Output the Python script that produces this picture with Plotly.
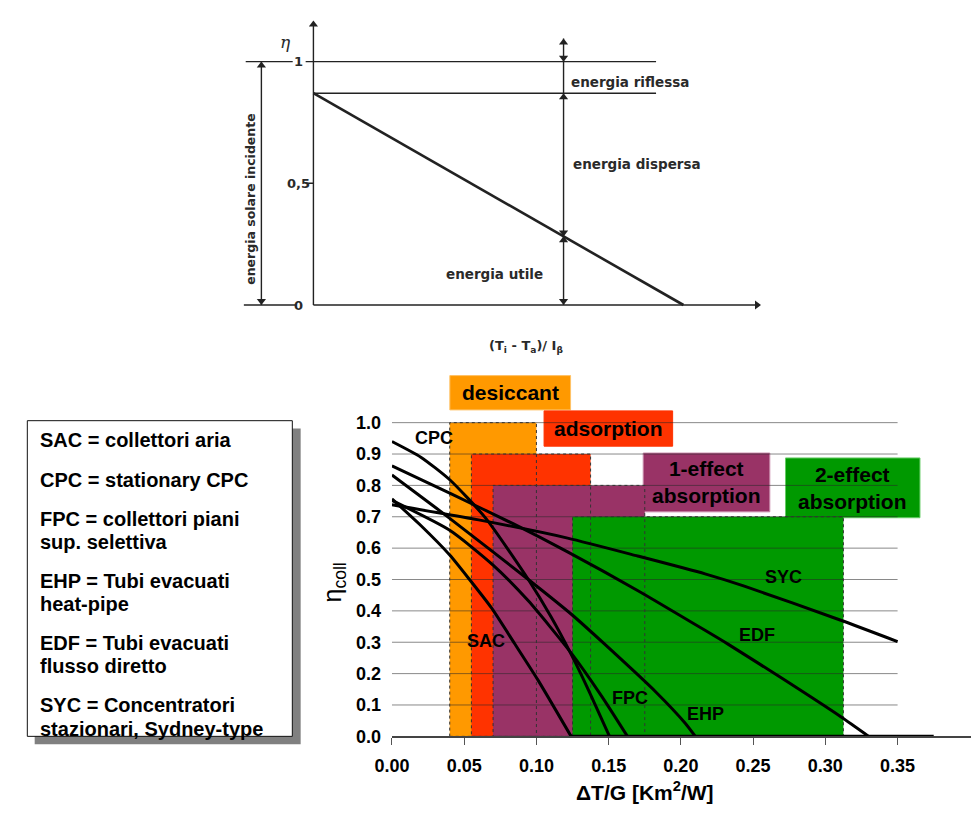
import plotly.graph_objects as go

W, H = 971, 814

# ------------------------------------------------------------------
# DATA  (lower chart: collector efficiency curves and application ranges)
# ------------------------------------------------------------------
x_tick_vals = [0.00, 0.05, 0.10, 0.15, 0.20, 0.25, 0.30, 0.35]
x_tick_text = ["0.00", "0.05", "0.10", "0.15", "0.20", "0.25", "0.30", "0.35"]
y_tick_vals = [0.0, 0.1, 0.2, 0.3, 0.4, 0.5, 0.6, 0.7, 0.8, 0.9, 1.0]
y_tick_text = ["0.0", "0.1", "0.2", "0.3", "0.4", "0.5", "0.6", "0.7", "0.8", "0.9", "1.0"]

app_names = ["desiccant", "adsorption", "1-effect<br>absorption", "2-effect<br>absorption"]
app_x_min = [0.040, 0.055, 0.070, 0.125]
app_x_max = [0.100, 0.1375, 0.175, 0.3125]
app_eta_max = [1.0, 0.9, 0.8, 0.7]
app_colors = ["#FF9900", "#FF3300", "#993366", "#009900"]
app_borders = ["#FFC266", "#FF3300", "#C98AAA", "#66CC66"]

cpc_x = [0.0, 0.02, 0.04, 0.065, 0.0944, 0.11, 0.124, 0.135, 0.1506]
cpc_eta = [0.94, 0.89, 0.818, 0.695, 0.50, 0.382, 0.262, 0.158, 0.0]
sac_x = [0.0, 0.02, 0.04, 0.0537, 0.0688, 0.085, 0.101, 0.124]
sac_eta = [0.757, 0.672, 0.578, 0.50, 0.41, 0.295, 0.18, 0.0]
fpc_x = [0.0, 0.04, 0.07, 0.0944, 0.124, 0.145, 0.163]
fpc_eta = [0.752, 0.657, 0.546, 0.432, 0.266, 0.129, 0.0]
ehp_x = [0.0, 0.04, 0.0944, 0.124, 0.1465, 0.183, 0.203, 0.21]
ehp_eta = [0.833, 0.695, 0.50, 0.39, 0.297, 0.14, 0.042, 0.0]
edf_x = [0.0, 0.04, 0.0842, 0.1216, 0.17, 0.2167, 0.2326, 0.27, 0.3107, 0.33]
edf_eta = [0.862, 0.775, 0.677, 0.588, 0.465, 0.338, 0.294, 0.185, 0.0625, 0.0]
syc_x = [0.0, 0.06, 0.1216, 0.17, 0.2167, 0.2439, 0.3107, 0.35]
syc_eta = [0.738, 0.690, 0.632, 0.575, 0.518, 0.479, 0.37, 0.302]
zero_x = [0.124, 0.375]          # efficiencies clipped at zero
zero_eta = [0.0, 0.0]

collector_names = ["CPC", "SAC", "FPC", "EHP", "EDF", "SYC"]
collector_x = [cpc_x, sac_x, fpc_x, ehp_x, edf_x, syc_x]
collector_eta = [cpc_eta, sac_eta, fpc_eta, ehp_eta, edf_eta, syc_eta]

legend_lines = [
    ["SAC = collettori aria"],
    ["CPC = stationary CPC"],
    ["FPC = collettori piani", "sup. selettiva"],
    ["EHP = Tubi evacuati", "heat-pipe"],
    ["EDF = Tubi evacuati", "flusso diretto"],
    ["SYC = Concentratori", "stazionari, Sydney-type"],
]

# DATA (upper schematic)
sch_eta0 = 0.87            # optical efficiency (intercept)
sch_x_zero = 1.0           # stagnation abscissa
sch_levels = [1.0, 0.87]   # incident (1) and transmitted-absorbed level
sch_x_marker = 0.676       # abscissa of the dimension line
sch_tick_vals = [1.0, 0.5, 0.0]
sch_tick_text = ["1", "0,5", "0"]

# ------------------------------------------------------------------
def px(x):
    return x / W

def py(y):
    return 1 - y / H

FONT = "Liberation Sans, Arial, sans-serif"
SFONT = "DejaVu Sans, sans-serif"
INK = "#222222"

fig = go.Figure()

# ---------------- lower chart traces ----------------
for name, xs, ys in zip(collector_names, collector_x, collector_eta):
    fig.add_trace(go.Scatter(x=xs, y=ys, mode="lines", name=name,
                             line=dict(color="black", width=3, shape="spline", smoothing=0.6),
                             showlegend=False, hoverinfo="skip", xaxis="x", yaxis="y"))
fig.add_trace(go.Scatter(x=zero_x, y=zero_eta, mode="lines",
                         line=dict(color="black", width=3), showlegend=False,
                         hoverinfo="skip", xaxis="x", yaxis="y"))

shapes = []
for x0, x1, top, col in zip(app_x_min, app_x_max, app_eta_max, app_colors):
    shapes.append(dict(type="rect", xref="x", yref="y", x0=x0, x1=x1, y0=0, y1=top,
                       fillcolor=col, line=dict(width=0), layer="below"))
label_boxes = [(440, 377, 563, 412), (536, 413, 667, 449), (637, 456, 766, 516), (782, 461, 919, 522)]
for (l, t, r, b), col, bcol in zip(label_boxes, app_colors, app_borders):
    shapes.append(dict(type="rect", xref="paper", yref="paper", x0=px(l), x1=px(r),
                       y0=py(b), y1=py(t), fillcolor=col, line=dict(color=bcol, width=1),
                       layer="below"))
for v in y_tick_vals[1:]:
    shapes.append(dict(type="line", xref="x", yref="y", x0=0, x1=x_tick_vals[-1], y0=v, y1=v,
                       line=dict(color="rgba(40,40,40,0.55)", width=1), layer="below"))
for x0, x1, top in zip(app_x_min, app_x_max, app_eta_max):
    shapes.append(dict(type="rect", xref="x", yref="y", x0=x0, x1=x1, y0=0, y1=top,
                       fillcolor="rgba(0,0,0,0)", line=dict(color="#333333", width=1, dash="dot"),
                       layer="below"))
shapes.append(dict(type="rect", xref="paper", yref="paper", x0=px(17), x1=px(288),
                   y0=py(753), y1=py(431), fillcolor="#808080", line=dict(width=0), layer="below"))
shapes.append(dict(type="rect", xref="paper", yref="paper", x0=px(9.5), x1=px(279.5),
                   y0=py(745), y1=py(423), fillcolor="white", line=dict(color="#111", width=1),
                   layer="below"))

annotations = []
for (l, t, r, b), name in zip(label_boxes, app_names):
    annotations.append(dict(xref="paper", yref="paper", x=px((l + r) / 2), y=py((t + b) / 2),
                            text=name, showarrow=False, xanchor="center", yanchor="middle",
                            font=dict(family=FONT, size=21, color="black", weight="bold")))
curve_label_pos = {"CPC": (0.0292, 0.952), "SAC": (0.0652, 0.305), "FPC": (0.165, 0.123),
                   "EHP": (0.217, 0.070), "EDF": (0.2527, 0.322), "SYC": (0.2707, 0.508)}
for name in collector_names:
    lx, ly = curve_label_pos[name]
    annotations.append(dict(xref="x", yref="y", x=lx, y=ly, text=name, showarrow=False,
                            xanchor="center", yanchor="middle",
                            font=dict(family=FONT, size=18, color="black", weight="bold")))
annotations.append(dict(xref="paper", yref="paper", x=px(639), y=py(801),
                        text="ΔT/G [Km<sup>2</sup>/W]", showarrow=False,
                        xanchor="center", yanchor="middle",
                        font=dict(family=FONT, size=21, color="black", weight="bold")))
annotations.append(dict(xref="paper", yref="paper", x=px(322), y=py(588),
                        text="η<sub>coll</sub>", showarrow=False, textangle=-90,
                        xanchor="center", yanchor="middle",
                        font=dict(family=FONT, size=25, color="black")))
line_y = 443
for entry in legend_lines:
    for i, txt in enumerate(entry):
        annotations.append(dict(xref="paper", yref="paper", x=px(20), y=py(line_y),
                                text=txt, showarrow=False, xanchor="left", yanchor="middle",
                                font=dict(family=FONT, size=20, color="black", weight="bold")))
        line_y += 23.5 if i < len(entry) - 1 else 40

# ---------------- upper schematic ----------------
def seg(xs, ys, width=1.4):
    fig.add_trace(go.Scatter(x=xs, y=ys, mode="lines", line=dict(color=INK, width=width),
                             showlegend=False, hoverinfo="skip", xaxis="x2", yaxis="y2"))

seg([0, 0], [0, 1.16])                                 # eta axis
seg([0, 1.20], [0, 0])                                 # abscissa
seg([-0.188, -0.048], [0, 0])                          # left stub at 0
seg([-0.183, -0.056], [sch_levels[0]] * 2)             # left stub at 1
seg([-0.021, 0.926], [sch_levels[0]] * 2)              # level 1
seg([0, 0.926], [sch_levels[1]] * 2)                   # level eta0
seg([-0.021, 0], [0.5, 0.5])                           # tick 0,5
seg([0, sch_x_zero], [sch_eta0, 0], width=2.6)         # efficiency line
seg([sch_x_marker, sch_x_marker], [0, 1.095])          # dimension line
seg([-0.1406, -0.1406], [0, 1.0])                      # incident bracket

eta_at_marker = sch_eta0 * (1 - sch_x_marker / sch_x_zero)

# arrowheads as triangle markers (tip placed on the head point)
dy = 4 / 248.3
dx = 4 / 377
heads = [
    (0, 1.168, "up"), (1.2095, 0, "right"),
    (-0.1406, 1.0, "up"), (-0.1406, 0.0, "down"),
    (sch_x_marker, 1.095, "up"), (sch_x_marker, sch_levels[0], "down"),
    (sch_x_marker, sch_levels[1], "up"),
    (sch_x_marker, eta_at_marker, "down"), (sch_x_marker, eta_at_marker, "up"),
    (sch_x_marker, 0.0, "down"),
]
for hx, hy, d in heads:
    if d == "up":
        cx, cy = hx, hy - dy
    elif d == "down":
        cx, cy = hx, hy + dy
    else:
        cx, cy = hx - dx, hy
    fig.add_trace(go.Scatter(x=[cx], y=[cy], mode="markers",
                             marker=dict(symbol="triangle-" + d, size=8, color=INK,
                                         line=dict(width=0)),
                             showlegend=False, hoverinfo="skip", xaxis="x2", yaxis="y2"))

def stext(x, y, text, size=13, xanchor="left", angle=0, weight="bold", family=SFONT):
    annotations.append(dict(xref="x2", yref="y2", x=x, y=y, text=text, showarrow=False,
                            xanchor=xanchor, yanchor="middle", textangle=angle,
                            font=dict(family=family, size=size, color="#2a2a2a", weight=weight)))

for v, t in zip(sch_tick_vals, sch_tick_text):
    stext(-0.040, v, t, size=13, xanchor="center")
stext(0.692, 0.918, "energia riflessa", size=13.5)
stext(0.695, 0.58, "energia dispersa", size=13.5)
stext(0.4907, 0.129, "energia utile", size=13.5, xanchor="center")
stext(-0.1724, 0.435, "energia solare incidente", size=12.5, xanchor="center", angle=-90)
stext(0.5756, -0.169, "(T<sub>i</sub> - T<sub>a</sub>)/ I<sub>β</sub>", size=13, xanchor="center")
stext(-0.0743, 1.079, "<i>η</i>", size=17, xanchor="center", weight="normal",
      family="DejaVu Serif, serif")

# ---------------- layout ----------------
y_top_px = 421.2
fig.update_layout(
    width=W, height=H, margin=dict(l=0, r=0, t=0, b=0), autosize=False,
    paper_bgcolor="white", plot_bgcolor="rgba(0,0,0,0)",
    shapes=shapes, annotations=annotations,
    xaxis=dict(domain=[px(381), 1.0], range=[0, (W - 381) / 1472], anchor="y",
               fixedrange=True,
               showgrid=False, zeroline=False, showline=True, linecolor="#444", linewidth=1.5,
               tickmode="array", tickvals=x_tick_vals, ticktext=x_tick_text,
               ticks="outside", ticklen=7, tickcolor="#555", tickwidth=1,
               ticklabelstandoff=6,
               tickfont=dict(family=FONT, size=18, color="black", weight="bold")),
    yaxis=dict(domain=[py(745), py(y_top_px)], range=[0, (745 - y_top_px) / 320], anchor="x",
               fixedrange=True,
               showgrid=False, zeroline=False, showline=False,
               tickmode="array", tickvals=y_tick_vals, ticktext=y_tick_text,
               ticks="", ticklabelstandoff=10,
               tickfont=dict(family=FONT, size=18, color="black", weight="bold")),
    xaxis2=dict(domain=[px(220), px(780)], range=[(220 - 301) / 377, (780 - 301) / 377],
                anchor="y2", visible=False, fixedrange=True),
    yaxis2=dict(domain=[py(365), 1.0], range=[(305 - 365) / 248.3, 305 / 248.3],
                anchor="x2", visible=False, fixedrange=True),
)

fig.write_html("out.html", config={"staticPlot": True, "responsive": False})
